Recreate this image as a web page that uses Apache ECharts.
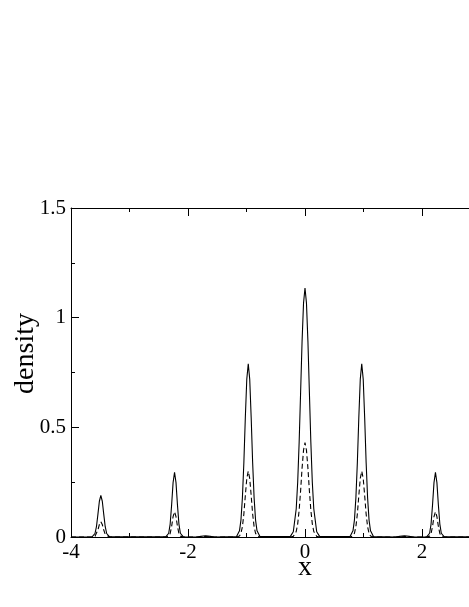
<!DOCTYPE html>
<html>
<head>
<meta charset="utf-8">
<script src="https://cdn.jsdelivr.net/npm/echarts@6/dist/echarts.min.js"></script>
<style>
  html, body { margin: 0; padding: 0; background: #fff; }
  #chart { width: 469px; height: 607px; }
</style>
</head>
<body>
<div id="chart"></div>
<script>
// x positions, peaks near -3.49, -2.23, -0.97, 0, 0.97, 2.23, 3.49
var xs = [
  -4.0,
  -3.64, -3.59, -3.565, -3.54, -3.515, -3.49, -3.465, -3.44, -3.415, -3.39, -3.34,
  -2.38, -2.33, -2.305, -2.28, -2.255, -2.23, -2.205, -2.18, -2.155, -2.13, -2.08,
  -1.85, -1.78, -1.7, -1.62, -1.55,
  -1.17, -1.12, -1.095, -1.07, -1.045, -1.02, -0.995, -0.97, -0.945, -0.92, -0.895, -0.87, -0.845, -0.82, -0.77,
  -0.25, -0.2, -0.15, -0.125, -0.1, -0.075, -0.05, -0.025, 0, 0.025, 0.05, 0.075, 0.1, 0.125, 0.15, 0.2, 0.25,
  0.77, 0.82, 0.845, 0.87, 0.895, 0.92, 0.945, 0.97, 0.995, 1.02, 1.045, 1.07, 1.095, 1.12, 1.17,
  1.55, 1.62, 1.7, 1.78, 1.85,
  2.08, 2.13, 2.155, 2.18, 2.205, 2.23, 2.255, 2.28, 2.305, 2.33, 2.38,
  3.34, 3.39, 3.415, 3.44, 3.465, 3.49, 3.515, 3.54, 3.565, 3.59, 3.64,
  4.0
];

// solid curve
var densitySolid = [
  0,
  0.001, 0.016, 0.047, 0.103, 0.163, 0.19, 0.163, 0.103, 0.047, 0.016, 0.001,
  0.001, 0.017, 0.059, 0.146, 0.248, 0.295, 0.248, 0.146, 0.059, 0.017, 0.001,
  0, 0.003, 0.006, 0.003, 0,
  0.002, 0.028, 0.077, 0.179, 0.34, 0.545, 0.72, 0.79, 0.72, 0.545, 0.34, 0.179, 0.077, 0.028, 0.002,
  0.003, 0.024, 0.129, 0.25, 0.432, 0.66, 0.892, 1.067, 1.135, 1.067, 0.892, 0.66, 0.432, 0.25, 0.129, 0.024, 0.003,
  0.002, 0.028, 0.077, 0.179, 0.34, 0.545, 0.72, 0.79, 0.72, 0.545, 0.34, 0.179, 0.077, 0.028, 0.002,
  0, 0.003, 0.006, 0.003, 0,
  0.001, 0.017, 0.059, 0.146, 0.248, 0.295, 0.248, 0.146, 0.059, 0.017, 0.001,
  0.001, 0.016, 0.047, 0.103, 0.163, 0.19, 0.163, 0.103, 0.047, 0.016, 0.001,
  0
];

// dashed curve
var densityDashed = [
  0,
  0, 0.003, 0.012, 0.032, 0.057, 0.07, 0.057, 0.032, 0.012, 0.003, 0,
  0, 0.004, 0.016, 0.048, 0.093, 0.115, 0.093, 0.048, 0.016, 0.004, 0,
  0, 0.001, 0.002, 0.001, 0,
  0, 0.005, 0.017, 0.047, 0.105, 0.189, 0.267, 0.30, 0.267, 0.189, 0.105, 0.047, 0.017, 0.005, 0,
  0, 0.003, 0.025, 0.06, 0.122, 0.211, 0.314, 0.396, 0.43, 0.396, 0.314, 0.211, 0.122, 0.06, 0.025, 0.003, 0,
  0, 0.005, 0.017, 0.047, 0.105, 0.189, 0.267, 0.30, 0.267, 0.189, 0.105, 0.047, 0.017, 0.005, 0,
  0, 0.001, 0.002, 0.001, 0,
  0, 0.004, 0.016, 0.048, 0.093, 0.115, 0.093, 0.048, 0.016, 0.004, 0,
  0, 0.003, 0.012, 0.032, 0.057, 0.07, 0.057, 0.032, 0.012, 0.003, 0,
  0
];

var xTicks = [-4, -2, 0, 2, 4];
var yTicks = [0, 0.5, 1, 1.5];

function pairs(ys) {
  return xs.map(function (x, i) { return [x, ys[i]]; });
}

var font = "'Liberation Serif', 'DejaVu Serif', serif";
var black = "#000";

var chart = echarts.init(document.getElementById("chart"), null, { renderer: "canvas" });

chart.setOption({
  animation: false,
  backgroundColor: "#fff",
  grid: {
    left: 71,
    top: 208,
    width: 468,
    height: 329,
    outerBoundsMode: "none",
    containLabel: false
  },
  xAxis: [
    {
      type: "value",
      min: xTicks[0],
      max: xTicks[xTicks.length - 1],
      interval: 2,
      name: "x",
      nameLocation: "middle",
      nameGap: 17,
      nameMoveOverlap: false,
      nameTextStyle: { fontFamily: font, fontSize: 28, color: black },
      axisLine: { show: true, onZero: false, lineStyle: { color: black, width: 1 } },
      axisTick: { show: true, inside: true, length: 8, lineStyle: { color: black } },
      minorTick: { show: true, splitNumber: 2, length: 4, lineStyle: { color: black } },
      splitLine: { show: false },
      axisLabel: {
        fontFamily: font, fontSize: 21, color: black, margin: 5,
        showMaxLabel: false,
        formatter: function (v) { return String(v); }
      }
    },
    {
      type: "value",
      position: "top",
      min: xTicks[0],
      max: xTicks[xTicks.length - 1],
      interval: 2,
      axisLine: { show: true, onZero: false, lineStyle: { color: black, width: 1 } },
      axisTick: { show: true, inside: true, length: 8, lineStyle: { color: black } },
      minorTick: { show: true, splitNumber: 2, length: 4, lineStyle: { color: black } },
      splitLine: { show: false },
      axisLabel: { show: false }
    }
  ],
  yAxis: {
    type: "value",
    min: yTicks[0],
    max: yTicks[yTicks.length - 1],
    interval: 0.5,
    name: "density",
    nameLocation: "middle",
    nameGap: 31,
    nameMoveOverlap: false,
    nameTextStyle: { fontFamily: font, fontSize: 28, color: black, padding: [0, 0, 0, 38] },
    axisLine: { show: true, onZero: false, lineStyle: { color: black, width: 1 } },
    axisTick: { show: true, inside: true, length: 8, lineStyle: { color: black } },
    minorTick: { show: true, splitNumber: 2, length: 4, lineStyle: { color: black } },
    splitLine: { show: false },
    axisLabel: {
      fontFamily: font, fontSize: 21, color: black, margin: 5,
      formatter: function (v) { return String(v); }
    }
  },
  series: [
    {
      name: "solid",
      type: "line",
      xAxisIndex: 0,
      showSymbol: false,
      data: pairs(densitySolid),
      lineStyle: { color: black, width: 1.1 },
      clip: true
    },
    {
      name: "dashed",
      type: "line",
      xAxisIndex: 0,
      showSymbol: false,
      data: pairs(densityDashed),
      lineStyle: { color: black, width: 1.1, type: [5, 3] },
      clip: true
    }
  ]
});
</script>
</body>
</html>
